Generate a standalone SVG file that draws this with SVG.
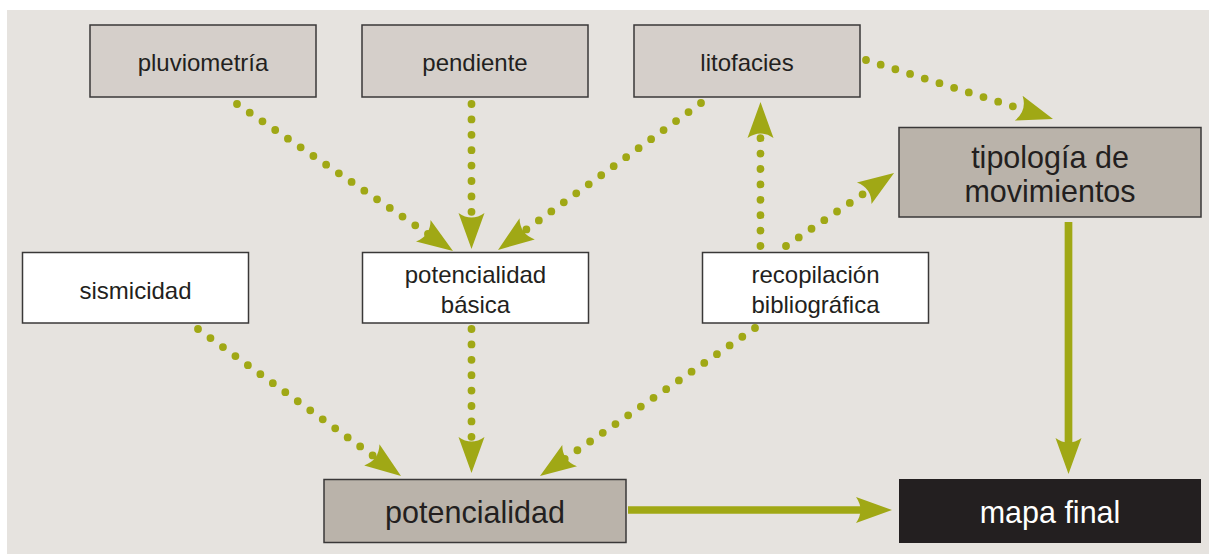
<svg xmlns="http://www.w3.org/2000/svg" width="1209" height="554" viewBox="0 0 1209 554">
<style>
.box{stroke:#3a3838;stroke-width:1.5}
.light{fill:#d5cfca}
.mid{fill:#bab3aa}
.white{fill:#ffffff}
.black{fill:#231f20}
text{font-family:"Liberation Sans",Arial,sans-serif;fill:#231f20;text-anchor:middle}
.s{font-size:24px}
.b{font-size:30.5px}
.dot{fill:none;stroke:#a0a815;stroke-width:7.8;stroke-linecap:round;stroke-dasharray:0 15.4}
.sol{fill:none;stroke:#a0a815;stroke-width:7.7}
</style>
<defs>
<marker id="ah" viewBox="0 -14 37 28" markerWidth="37" markerHeight="28" refX="6" refY="0" markerUnits="userSpaceOnUse" orient="auto">
<path d="M36,0 L0,-13 Q9,0 0,13 Z" fill="#a0a815"/>
</marker>
</defs>
<rect x="7" y="10" width="1202" height="544" fill="#e6e3df"/>
<g id="connectors">
<path class="dot" d="M237,104 L428.2,234.1" marker-end="url(#ah)"/>
<path class="dot" d="M471.5,104 L471.5,219" marker-end="url(#ah)"/>
<path class="dot" d="M701,103 L522.3,232.4" marker-end="url(#ah)"/>
<path class="dot" d="M760.5,246 L760.5,132" marker-end="url(#ah)"/>
<path class="dot" d="M786,246 L869.2,189.8" marker-end="url(#ah)"/>
<path class="dot" d="M866,60 L1024.4,110" marker-end="url(#ah)"/>
<path class="dot" d="M198,329 L376.7,458.4" marker-end="url(#ah)"/>
<path class="dot" d="M471.5,329 L471.5,443" marker-end="url(#ah)"/>
<path class="dot" d="M755,328 L564.7,459" marker-end="url(#ah)"/>
<path class="sol" d="M628,510 L862,510" marker-end="url(#ah)"/>
<path class="sol" d="M1068.5,222 L1068.5,444" marker-end="url(#ah)"/>
</g>
<g id="pluviometria">
<rect class="box light" x="90" y="25" width="226" height="72"/>
<text class="s" x="203" y="71">pluviometría</text>
</g>
<g id="pendiente">
<rect class="box light" x="362" y="25" width="226" height="72"/>
<text class="s" x="475" y="71">pendiente</text>
</g>
<g id="litofacies">
<rect class="box light" x="634" y="25" width="226" height="72"/>
<text class="s" x="747" y="71">litofacies</text>
</g>
<g id="tipologia">
<rect class="box mid" x="899" y="127.5" width="302" height="89.5"/>
<text class="b" x="1050" y="168">tipología de</text>
<text class="b" x="1050" y="202">movimientos</text>
</g>
<g id="sismicidad">
<rect class="box white" x="22.5" y="252.5" width="226" height="70.5"/>
<text class="s" x="135.5" y="299">sismicidad</text>
</g>
<g id="potencialidad-basica">
<rect class="box white" x="362.5" y="252.5" width="226" height="70.5"/>
<text class="s" x="475.5" y="283">potencialidad</text>
<text class="s" x="475.5" y="312.5">básica</text>
</g>
<g id="recopilacion">
<rect class="box white" x="702.5" y="252.5" width="226" height="70.5"/>
<text class="s" x="815.5" y="283">recopilación</text>
<text class="s" x="815.5" y="312.5">bibliográfica</text>
</g>
<g id="potencialidad">
<rect class="box mid" x="324" y="479.5" width="302" height="63"/>
<text class="b" x="475" y="523">potencialidad</text>
</g>
<g id="mapa-final">
<rect class="black" x="899" y="479" width="302" height="64"/>
<text class="b" x="1050" y="523" style="fill:#ffffff">mapa final</text>
</g>
</svg>
